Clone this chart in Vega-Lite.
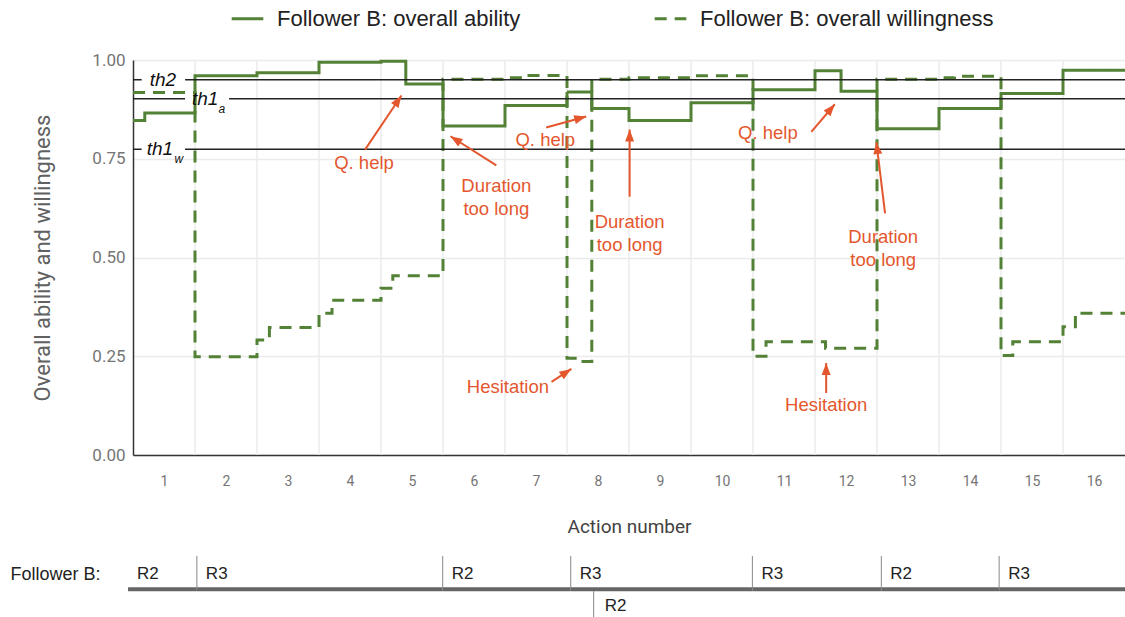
{
  "$schema": "https://vega.github.io/schema/vega-lite/v6.json",
  "padding": {"left": 10, "top": 1, "right": 0, "bottom": 0},
  "spacing": 18,
  "config": {"view": {"stroke": null}, "font": "Roboto"},
  "datasets": {
    "series": [
      {"action": 0.5, "value": 0.847, "series": "Follower B: overall ability"},
      {"action": 0.69, "value": 0.866, "series": "Follower B: overall ability"},
      {"action": 1.5, "value": 0.96, "series": "Follower B: overall ability"},
      {"action": 2.5, "value": 0.968, "series": "Follower B: overall ability"},
      {"action": 3.5, "value": 0.994, "series": "Follower B: overall ability"},
      {"action": 4.5, "value": 0.997, "series": "Follower B: overall ability"},
      {"action": 4.9, "value": 0.939, "series": "Follower B: overall ability"},
      {"action": 5.5, "value": 0.833, "series": "Follower B: overall ability"},
      {"action": 6.5, "value": 0.885, "series": "Follower B: overall ability"},
      {"action": 7.5, "value": 0.919, "series": "Follower B: overall ability"},
      {"action": 7.9, "value": 0.877, "series": "Follower B: overall ability"},
      {"action": 8.5, "value": 0.847, "series": "Follower B: overall ability"},
      {"action": 9.5, "value": 0.892, "series": "Follower B: overall ability"},
      {"action": 10.5, "value": 0.925, "series": "Follower B: overall ability"},
      {"action": 11.5, "value": 0.973, "series": "Follower B: overall ability"},
      {"action": 11.92, "value": 0.921, "series": "Follower B: overall ability"},
      {"action": 12.5, "value": 0.826, "series": "Follower B: overall ability"},
      {"action": 13.5, "value": 0.877, "series": "Follower B: overall ability"},
      {"action": 14.5, "value": 0.915, "series": "Follower B: overall ability"},
      {"action": 15.5, "value": 0.974, "series": "Follower B: overall ability"},
      {"action": 16.5, "value": 0.974, "series": "Follower B: overall ability"},
      {"action": 0.5, "value": 0.918, "series": "Follower B: overall willingness"},
      {"action": 1.5, "value": 0.249, "series": "Follower B: overall willingness"},
      {"action": 2.5, "value": 0.291, "series": "Follower B: overall willingness"},
      {"action": 2.7, "value": 0.323, "series": "Follower B: overall willingness"},
      {"action": 3.5, "value": 0.359, "series": "Follower B: overall willingness"},
      {"action": 3.71, "value": 0.392, "series": "Follower B: overall willingness"},
      {"action": 4.5, "value": 0.422, "series": "Follower B: overall willingness"},
      {"action": 4.69, "value": 0.454, "series": "Follower B: overall willingness"},
      {"action": 5.5, "value": 0.951, "series": "Follower B: overall willingness"},
      {"action": 6.5, "value": 0.955, "series": "Follower B: overall willingness"},
      {"action": 6.8, "value": 0.961, "series": "Follower B: overall willingness"},
      {"action": 7.5, "value": 0.245, "series": "Follower B: overall willingness"},
      {"action": 7.69, "value": 0.237, "series": "Follower B: overall willingness"},
      {"action": 7.9, "value": 0.951, "series": "Follower B: overall willingness"},
      {"action": 8.5, "value": 0.955, "series": "Follower B: overall willingness"},
      {"action": 9.5, "value": 0.96, "series": "Follower B: overall willingness"},
      {"action": 10.5, "value": 0.25, "series": "Follower B: overall willingness"},
      {"action": 10.71, "value": 0.287, "series": "Follower B: overall willingness"},
      {"action": 11.67, "value": 0.27, "series": "Follower B: overall willingness"},
      {"action": 12.5, "value": 0.951, "series": "Follower B: overall willingness"},
      {"action": 13.5, "value": 0.955, "series": "Follower B: overall willingness"},
      {"action": 13.75, "value": 0.959, "series": "Follower B: overall willingness"},
      {"action": 14.5, "value": 0.252, "series": "Follower B: overall willingness"},
      {"action": 14.69, "value": 0.287, "series": "Follower B: overall willingness"},
      {"action": 15.5, "value": 0.325, "series": "Follower B: overall willingness"},
      {"action": 15.7, "value": 0.359, "series": "Follower B: overall willingness"},
      {"action": 16.5, "value": 0.359, "series": "Follower B: overall willingness"}
    ],
    "grid": [
      {"b": 1.5}, {"b": 2.5}, {"b": 3.5}, {"b": 4.5}, {"b": 5.5}, {"b": 6.5}, {"b": 7.5}, {"b": 8.5},
      {"b": 9.5}, {"b": 10.5}, {"b": 11.5}, {"b": 12.5}, {"b": 13.5}, {"b": 14.5}, {"b": 15.5}
    ],
    "thresholds": [
      {"name": "th2", "level": 0.95, "from": 0.5, "to": 0.64},
      {"name": "th2", "level": 0.95, "from": 1.34, "to": 16.5},
      {"name": "th1_a", "level": 0.902, "from": 0.5, "to": 1.34},
      {"name": "th1_a", "level": 0.902, "from": 2.05, "to": 16.5},
      {"name": "th1_w", "level": 0.774, "from": 0.5, "to": 0.64},
      {"name": "th1_w", "level": 0.774, "from": 1.34, "to": 16.5}
    ],
    "thlabels": [
      {"text": "th2", "x": 0.77, "level": 0.95, "sub": "", "sx": 0},
      {"text": "th1", "x": 1.45, "level": 0.902, "sub": "a", "sx": 1.88},
      {"text": "th1", "x": 0.72, "level": 0.774, "sub": "w", "sx": 1.17}
    ],
    "notes": [
      {"label": "Q. help", "tx": 4.226, "ty": 0.739, "x1": 4.243, "y1": 0.773, "x2": 4.83, "y2": 0.91},
      {"label": "Duration\ntoo long", "tx": 6.36, "ty": 0.68, "x1": 6.36, "y1": 0.733, "x2": 5.62, "y2": 0.807},
      {"label": "Q. help", "tx": 7.15, "ty": 0.797, "x1": 7.164, "y1": 0.829, "x2": 7.81, "y2": 0.857},
      {"label": "Duration\ntoo long", "tx": 8.51, "ty": 0.591, "x1": 8.51, "y1": 0.654, "x2": 8.51, "y2": 0.824},
      {"label": "Q. help", "tx": 10.74, "ty": 0.814, "x1": 11.44, "y1": 0.818, "x2": 11.82, "y2": 0.888},
      {"label": "Duration\ntoo long", "tx": 12.6, "ty": 0.553, "x1": 12.63, "y1": 0.612, "x2": 12.49, "y2": 0.792},
      {"label": "Hesitation", "tx": 6.547, "ty": 0.172, "x1": 7.25, "y1": 0.185, "x2": 7.57, "y2": 0.218},
      {"label": "Hesitation", "tx": 11.68, "ty": 0.127, "x1": 11.68, "y1": 0.157, "x2": 11.68, "y2": 0.233}
    ],
    "timeline": [
      {"start": 0.42, "end": 1.53, "role": "R2", "track": "main"},
      {"start": 1.53, "end": 5.495, "role": "R3", "track": "main"},
      {"start": 5.495, "end": 7.56, "role": "R2", "track": "main"},
      {"start": 7.56, "end": 10.49, "role": "R3", "track": "main"},
      {"start": 10.49, "end": 12.57, "role": "R3", "track": "main"},
      {"start": 12.57, "end": 14.47, "role": "R2", "track": "main"},
      {"start": 14.47, "end": 16.5, "role": "R3", "track": "main"},
      {"start": 7.93, "end": 16.5, "role": "R2", "track": "sub"}
    ]
  },
  "vconcat": [
    {
      "width": 992,
      "height": 395,
      "encoding": {
        "x": {
          "type": "quantitative",
          "scale": {"domain": [0.5, 16.5], "nice": false, "zero": false},
          "axis": {
            "title": "Action number", "values": [1,2,3,4,5,6,7,8,9,10,11,12,13,14,15,16],
            "grid": false, "ticks": false, "labelFlush": false, "labelPadding": 19,
            "labelFontSize": 14, "labelColor": "#757575", "labelFont": "Roboto",
            "domainColor": "#333333", "domainWidth": 1.5,
            "titleFontSize": 19, "titleFontWeight": "normal", "titleColor": "#424242", "titleFont": "Roboto", "titlePadding": 29
          }
        },
        "y": {
          "type": "quantitative",
          "scale": {"domain": [0, 1], "nice": false},
          "axis": {
            "title": "Overall ability and willingness", "values": [0, 0.25, 0.5, 0.75, 1], "format": ".2f",
            "grid": true, "gridColor": "#ebebeb", "gridWidth": 1.5, "ticks": false,
            "labelFontSize": 17, "labelColor": "#757575", "labelFont": "Roboto", "labelPadding": 8,
            "domainColor": "#333333", "domainWidth": 1.5,
            "titleFontSize": 22, "titleFontWeight": "normal", "titleColor": "#616161", "titleFont": "Roboto", "titlePadding": 37
          }
        }
      },
      "layer": [
        {
          "data": {"name": "grid"},
          "mark": {"type": "rule", "color": "#ebebeb", "strokeWidth": 1.5},
          "encoding": {
            "x": {"field": "b"},
            "y": null
          }
        },
        {
          "data": {"name": "series"},
          "mark": {"type": "line", "interpolate": "step-after", "strokeWidth": 3},
          "encoding": {
            "x": {"field": "action"},
            "y": {"field": "value"},
            "color": {
              "field": "series", "type": "nominal",
              "scale": {"domain": ["Follower B: overall ability", "Follower B: overall willingness"], "range": ["#538135", "#538135"]},
              "legend": {"title": null, "orient": "none", "legendX": 97, "legendY": -59, "direction": "horizontal",
                "symbolType": "stroke", "symbolSize": 1000, "symbolStrokeWidth": 3, "labelFontSize": 22, "labelLimit": 0,
                "labelFont": "Liberation Sans", "labelColor": "#222222", "columnPadding": 127, "labelOffset": 12}
            },
            "strokeDash": {
              "field": "series", "type": "nominal",
              "scale": {"domain": ["Follower B: overall ability", "Follower B: overall willingness"], "range": [[1, 0], [12, 8]]},
              "legend": {"title": null, "orient": "none", "legendX": 97, "legendY": -59, "direction": "horizontal",
                "symbolType": "stroke", "symbolSize": 1000, "symbolStrokeWidth": 3, "labelFontSize": 22, "labelLimit": 0,
                "labelFont": "Liberation Sans", "labelColor": "#222222", "columnPadding": 127, "labelOffset": 12}
            }
          }
        },
        {
          "data": {"name": "thresholds"},
          "mark": {"type": "rule", "color": "#222222", "strokeWidth": 1.5},
          "encoding": {
            "x": {"field": "from"},
            "x2": {"field": "to"},
            "y": {"field": "level"}
          }
        },
        {
          "data": {"name": "thlabels"},
          "mark": {"type": "text", "align": "left", "baseline": "middle", "fontStyle": "italic", "fontSize": 19, "font": "Liberation Sans", "color": "#111111"},
          "encoding": {
            "x": {"field": "x"},
            "y": {"field": "level"},
            "text": {"field": "text"}
          }
        },
        {
          "data": {"name": "thlabels"},
          "transform": [{"filter": "datum.sub != ''"}],
          "mark": {"type": "text", "align": "left", "baseline": "middle", "fontStyle": "italic", "fontSize": 12, "font": "Liberation Sans", "color": "#111111", "dy": 10},
          "encoding": {
            "x": {"field": "sx"},
            "y": {"field": "level"},
            "text": {"field": "sub"}
          }
        },
        {
          "data": {"name": "notes"},
          "mark": {"type": "rule", "color": "#e4572e", "strokeWidth": 2},
          "encoding": {
            "x": {"field": "x1"},
            "y": {"field": "y1"},
            "x2": {"field": "x2"},
            "y2": {"field": "y2"}
          }
        },
        {
          "data": {"name": "notes"},
          "mark": {"type": "point", "filled": true, "color": "#e4572e", "opacity": 1, "size": 144,
            "shape": "M0,0L-0.75,2L0.75,2Z",
            "angle": {"expr": "atan2((datum.x2-datum.x1)*62.06,(datum.y2-datum.y1)*396)*180/PI"}},
          "encoding": {
            "x": {"field": "x2"},
            "y": {"field": "y2"}
          }
        },
        {
          "data": {"name": "notes"},
          "mark": {"type": "text", "align": "center", "baseline": "middle", "fontSize": 18.5, "font": "Liberation Sans", "color": "#e4572e", "lineBreak": "\n", "lineHeight": 23},
          "encoding": {
            "x": {"field": "tx"},
            "y": {"field": "ty"},
            "text": {"field": "label"}
          }
        }
      ]
    },
    {
      "width": 992,
      "height": 64,
      "data": {"name": "timeline"},
      "layer": [
        {
          "transform": [{"filter": "datum.track == 'main'"}],
          "mark": {"type": "rule", "color": "#666666", "strokeWidth": 4},
          "encoding": {
            "x": {"field": "start", "type": "quantitative", "scale": {"domain": [0.5, 16.5], "nice": false, "zero": false}, "axis": null},
            "x2": {"field": "end"},
            "y": {"datum": 0.55, "type": "quantitative", "scale": {"domain": [0, 1], "reverse": true, "nice": false},
              "axis": {"title": "Follower B:", "titleAngle": 0, "titleAlign": "left", "titleBaseline": "middle", "titleX": -123, "titleY": 20,
                "titleFontSize": 18, "titleFont": "Liberation Sans", "titleFontWeight": "normal", "titleColor": "#222222",
                "labels": false, "ticks": false, "domain": false, "grid": false}}
          }
        },
        {
          "transform": [{"filter": "datum.track == 'main' && datum.start > 0.5"}],
          "mark": {"type": "rule", "color": "#888888", "strokeWidth": 1},
          "encoding": {
            "x": {"field": "start", "type": "quantitative"},
            "y": {"datum": 0.03, "type": "quantitative"},
            "y2": {"datum": 0.55}
          }
        },
        {
          "transform": [{"filter": "datum.track == 'sub'"}],
          "mark": {"type": "rule", "color": "#888888", "strokeWidth": 1},
          "encoding": {
            "x": {"field": "start", "type": "quantitative"},
            "y": {"datum": 0.58, "type": "quantitative"},
            "y2": {"datum": 1.0}
          }
        },
        {
          "transform": [{"filter": "datum.track == 'main'"}],
          "mark": {"type": "text", "align": "left", "baseline": "middle", "dx": 9, "fontSize": 17, "font": "Liberation Sans", "color": "#222222"},
          "encoding": {
            "x": {"field": "start", "type": "quantitative"},
            "y": {"datum": 0.31, "type": "quantitative"},
            "text": {"field": "role"}
          }
        },
        {
          "transform": [{"filter": "datum.track == 'sub'"}],
          "mark": {"type": "text", "align": "left", "baseline": "middle", "dx": 11, "fontSize": 17, "font": "Liberation Sans", "color": "#222222"},
          "encoding": {
            "x": {"field": "start", "type": "quantitative"},
            "y": {"datum": 0.81, "type": "quantitative"},
            "text": {"field": "role"}
          }
        }
      ]
    }
  ]
}
